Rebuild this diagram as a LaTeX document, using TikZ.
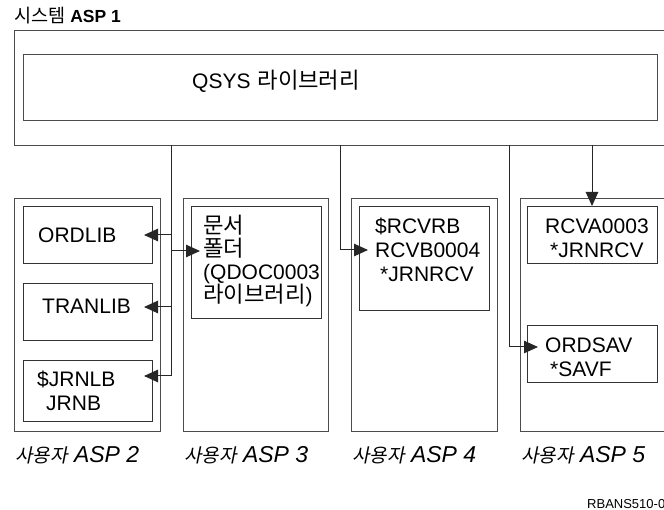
\documentclass[tikz,border=0pt]{standalone}
\usepackage{fontspec}
\setmainfont{Liberation Sans}
\newfontfamily\kr[Scale=1.06]{Noto Sans CJK KR}
\newfontfamily\krit[FakeSlant=0.2]{Noto Sans CJK KR}
\usetikzlibrary{calc}
\usetikzlibrary{arrows.meta}

\tikzset{
  box/.style={draw=black!70, line width=1pt, anchor=north west, inner sep=0pt},
  lib/.style={draw=black!80, line width=1pt, anchor=north west, inner sep=0pt},
  txt/.style={anchor=base west, inner sep=0pt, align=left, text width=130pt,
    font=\fontsize{21}{24}\selectfont},
  link/.style={black!85, line width=1pt},
  arr/.style={link, -{Triangle[length=14pt,width=12.5pt]}},
}

\begin{document}
\begin{tikzpicture}[x=1pt, y=-1pt]
\useasboundingbox (0,0) rectangle (664,510);

% system ASP
\node[anchor=base west, inner sep=0pt, font=\fontsize{17.5}{20}\selectfont] (systitle) at (14,23) {{\kr 시스템} \textbf{ASP 1}};
\node[box, minimum width=680pt, minimum height=115pt] (sys) at (14,30) {};
\node[box, minimum width=634pt, minimum height=66pt] (qsys) at (23,54) {};
\node[txt, text width=300pt] (qsystxt) at (192,89) {QSYS {\kr 라이브러리}};

% user ASPs
\foreach \x/\w/\n in {14/146/2, 183/145/3, 351/146/4, 520/180/5} {
  \node[box, minimum width=\w pt, minimum height=233pt] (asp\n) at (\x,198) {};
  \node[anchor=base west, inner sep=0pt, font=\fontsize{23}{26}\selectfont\itshape] (asplabel\n) at (\x+1,462) {{\krit\fontsize{19}{26}\selectfont 사용자} ASP \n};
}

% libraries
\node[lib, minimum width=129pt, minimum height=57pt] (ordlib) at (23,206) {};
\node[lib, minimum width=129pt, minimum height=57pt] (tranlib) at (23,283) {};
\node[lib, minimum width=129pt, minimum height=61pt] (jrnlb) at (23,360) {};
\node[lib, minimum width=130pt, minimum height=112pt] (docs) at (191,206) {};
\node[lib, minimum width=130pt, minimum height=104pt] (rcvrb) at (359,206) {};
\node[lib, minimum width=130pt, minimum height=57pt] (rcva) at (527,206) {};
\node[lib, minimum width=130pt, minimum height=57pt] (ordsav) at (527,325) {};

\node[txt] (ordlibtxt) at (38,243) {ORDLIB};
\node[txt] (tranlibtxt) at (42,314) {TRANLIB};
\node[txt] (jrnlbtxt) at (37,387) {\$JRNLB\\\hspace*{9pt}JRNB};
\node[txt] (docstxt) at (203,234) {{\kr 문서}\\[-1pt]{\kr 폴더}\\[-1pt](QDOC0003\\[-1pt]{\kr 라이브러리})};
\node[txt] (rcvrbtxt) at (375,234) {\$RCVRB\\RCVB0004\\\hspace*{5pt}*JRNRCV};
\node[txt] (rcvatxt) at (545,234) {RCVA0003\\\hspace*{5pt}*JRNRCV};
\node[txt] (ordsavtxt) at (545,353) {ORDSAV\\\hspace*{5pt}*SAVF};

\node[anchor=base west, inner sep=0pt, font=\fontsize{13}{15}\selectfont] (figid) at (587,508) {RBANS510-0};

% connectors
\coordinate (t1) at (171,145);
\coordinate (t1a) at (171,235);
\coordinate (t1b) at (171,251);
\coordinate (t1c) at (171,307);
\coordinate (t1d) at (171,376);
\draw[link] (t1) -- (t1d);
\draw[arr] (t1a) -- ($(t1a -| ordlib.east)+(-9,0)$);
\draw[arr] (t1b) -- ($(t1b -| docs.west)+(9,0)$);
\draw[arr] (t1c) -- ($(t1c -| tranlib.east)+(-9,0)$);
\draw[arr] (t1d) -- ($(t1d -| jrnlb.east)+(-9,0)$);

\coordinate (t2) at (340,145);
\coordinate (t2a) at (340,250);
\draw[arr] (t2) -- (t2a) -- ($(t2a -| rcvrb.west)+(9,0)$);

\coordinate (t3) at (509,145);
\coordinate (t3a) at (509,347);
\draw[arr] (t3) -- (t3a) -- ($(t3a -| ordsav.west)+(11,0)$);

\coordinate (t4) at (592,145);
\draw[arr] (t4) -- (t4 |- rcva.north);

\end{tikzpicture}
\end{document}
